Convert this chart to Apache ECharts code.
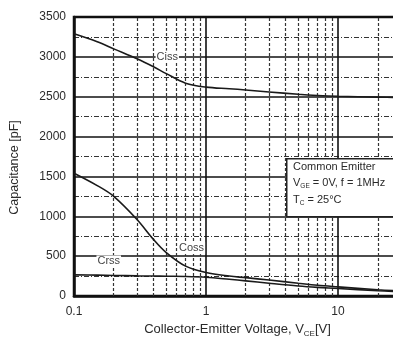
<!DOCTYPE html>
<html>
<head>
<meta charset="utf-8">
<script src="https://cdn.jsdelivr.net/npm/echarts@6.0.0/dist/echarts.min.js"></script>
<style>
html,body{margin:0;padding:0;background:#fff;}
#chart{width:393px;height:346px;}
</style>
</head>
<body>
<div id="chart"></div>
<script>
// ---- data ----
const voltage = [0.1, 0.15, 0.2, 0.3, 0.4, 0.5, 0.7, 1, 1.5, 2, 3, 5, 7, 10, 20, 30];
const ciss = [3290, 3190, 3100, 2975, 2875, 2790, 2670, 2620, 2600, 2585, 2560, 2530, 2515, 2505, 2495, 2490];
const coss = [1540, 1385, 1250, 960, 710, 545, 375, 295, 250, 230, 200, 160, 135, 115, 78, 62];
const crss = [265, 262, 258, 253, 250, 248, 245, 235, 210, 190, 160, 125, 108, 95, 65, 52];
const xTicks = [0.1, 1, 10];
const xMinorGrid = [0.2, 0.3, 0.4, 0.5, 0.6, 0.7, 0.8, 0.9, 2, 3, 4, 5, 6, 7, 8, 9, 20, 30];
const yTicks = [0, 500, 1000, 1500, 2000, 2500, 3000, 3500];
const seriesNames = ['Ciss', 'Coss', 'Crss'];
const noteLines = ['Common Emitter', 'V', 'GE', ' = 0V, f = 1MHz', 'T', 'C', ' = 25°C'];

const FONT = '"Liberation Sans", Arial, sans-serif';
const TXT = '#2a2a2a';

function pairs(ys) { return voltage.map((v, i) => [v, ys[i]]); }

function withLabel(ys, idx, name, offset) {
  return pairs(ys).map((p, i) => i === idx ? {
    value: p,
    label: {
      show: true, formatter: name, position: 'inside', offset: offset,
      fontFamily: FONT, fontSize: 11, color: '#444',
      backgroundColor: '#fff', padding: [1, 1, 0, 1]
    }
  } : p);
}

const lineCommon = {
  type: 'line', smooth: 0.35, symbol: 'circle', symbolSize: 0, showAllSymbol: true,
  lineStyle: { color: '#1a1a1a', width: 1.6 }, itemStyle: { color: '#1a1a1a' },
  silent: true, animation: false, z: 5
};

const subRich = (size) => ({
  n: { font: size + 'px ' + FONT, fill: TXT },
  s: { font: '6.5px ' + FONT, fill: TXT, verticalAlign: 'bottom', padding: [7, 0, 0, 0] }
});

const chart = echarts.init(document.getElementById('chart'), null, { renderer: 'canvas' });
chart.setOption({
  backgroundColor: '#fff',
  animation: false,
  grid: {
    left: 74, top: 17, bottom: 50, right: -8,
    containLabel: false, outerBoundsMode: 'none',
    show: true, borderColor: '#111', borderWidth: 2.5, backgroundColor: 'transparent'
  },
  xAxis: {
    type: 'log', logBase: 10, min: 0.1, max: 30,
    name: '{n|Collector-Emitter Voltage, V}{s|CE}{n|[V]}',
    nameLocation: 'middle', nameGap: 21,
    nameTextStyle: {
      rich: {
        n: { fontFamily: FONT, fontSize: 13, color: TXT },
        s: { fontFamily: FONT, fontSize: 8, color: TXT, verticalAlign: 'bottom', padding: [9, 0, 0, 0] }
      }
    },
    axisLine: { show: true, lineStyle: { color: '#111', width: 2.5 } },
    axisTick: { show: false },
    axisLabel: {
      fontFamily: FONT, fontSize: 12, color: TXT, margin: 10,
      formatter: function (v) {
        const t = xTicks.find(k => Math.abs(Math.log10(k) - Math.log10(v)) < 1e-6);
        return t === undefined ? '' : String(t);
      }
    },
    splitLine: { show: true, lineStyle: { color: '#111', width: 1.6 } }
  },
  yAxis: {
    type: 'value', min: 0, max: 3500, interval: 500,
    name: 'Capacitance [pF]', nameLocation: 'middle', nameGap: 53,
    nameTextStyle: { fontFamily: FONT, fontSize: 12.5, color: TXT, padding: [0, 22, 0, 0] },
    axisLine: { show: true, lineStyle: { color: '#111', width: 2.5 } },
    axisTick: { show: false },
    axisLabel: {
      fontFamily: FONT, fontSize: 12, color: TXT, margin: 8,
      formatter: v => yTicks.includes(v) ? String(v) : ''
    },
    splitLine: { show: true, lineStyle: { color: '#111', width: 1.6 } },
    minorTick: { show: false, splitNumber: 2 },
    minorSplitLine: { show: true, lineStyle: { color: '#333', width: 1.2, type: [5, 2, 1, 2] } }
  },
  series: [
    Object.assign({}, lineCommon, {
      name: seriesNames[0], data: withLabel(ciss, 5, seriesNames[0], [1, -17]),
      markLine: {
        silent: true, symbol: 'none', animation: false,
        label: { show: false },
        lineStyle: { color: '#333', width: 1.2, type: [3, 2] },
        data: xMinorGrid.map(v => ({ xAxis: v }))
      }
    }),
    Object.assign({}, lineCommon, { name: seriesNames[1], data: withLabel(coss, 6, seriesNames[1], [6, -18]) }),
    Object.assign({}, lineCommon, { name: seriesNames[2], data: withLabel(crss, 2, seriesNames[2], [-5, -14]) })
  ],
  graphic: [
    { type: 'rect', left: 286, top: 158, z: 100, zlevel: 1,
      shape: { x: 0, y: 0, width: 130, height: 58 },
      style: { fill: '#fff', stroke: '#222', lineWidth: 1.5 } },
    { type: 'text', left: 293, top: 161, z: 101, zlevel: 1,
      style: { text: noteLines[0], font: '11px ' + FONT, fill: TXT } },
    { type: 'text', left: 293, top: 177, z: 101, zlevel: 1,
      style: { text: '{n|' + noteLines[1] + '}{s|' + noteLines[2] + '}{n|' + noteLines[3] + '}', rich: subRich(11) } },
    { type: 'text', left: 293, top: 194, z: 101, zlevel: 1,
      style: { text: '{n|' + noteLines[4] + '}{s|' + noteLines[5] + '}{n|' + noteLines[6] + '}', rich: subRich(11) } }
  ]
});
</script>
</body>
</html>
